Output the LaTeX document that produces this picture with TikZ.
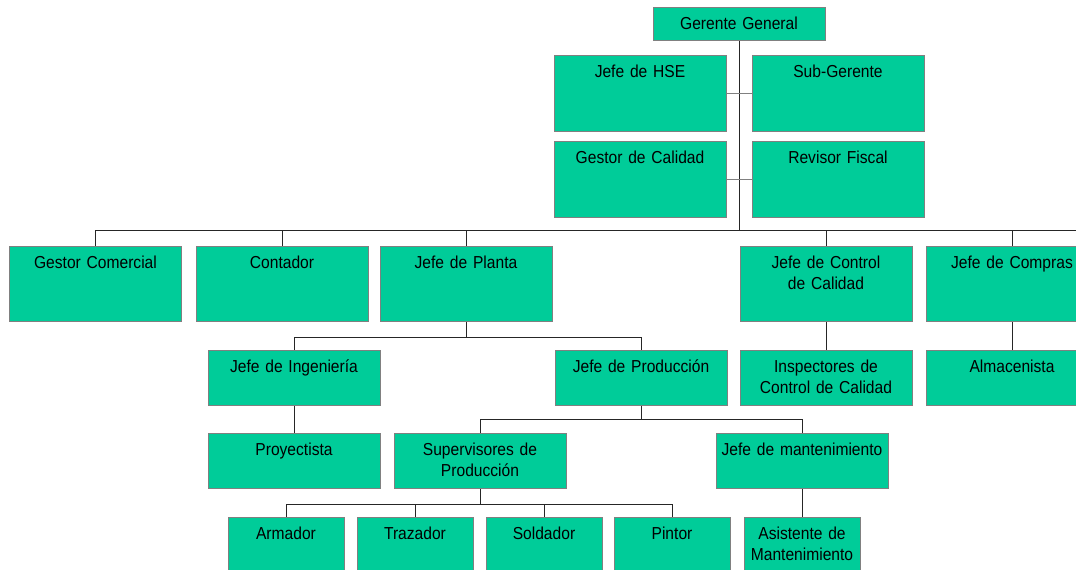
\documentclass[tikz,border=0pt]{standalone}
\usepackage{fontspec}
\setmainfont{Liberation Sans}[FakeStretch=0.9]
\definecolor{boxgreen}{RGB}{0,204,153}
\definecolor{boxline}{RGB}{128,128,128}
\begin{document}
\begin{tikzpicture}[
    x=0.75pt, y=-0.75pt,
    post/.style={rectangle, draw=boxline, line width=0.75pt, fill=boxgreen, anchor=north, text width=129pt, text centered, inner xsep=0pt, inner ysep=7.5pt, text height=9.3pt, font=\fontsize{13pt}{15.5pt}\selectfont},
    small/.style={post, text width=87pt},
    link/.style={draw=black!85, line width=0.75pt},
    side/.style={draw=boxline, line width=0.75pt}
]
\useasboundingbox (0,0) rectangle (1076,569);

% Direction
\node[post, text depth=0.45pt] (gg) at (739,7) {Gerente General};
\node[post, text depth=32.7pt] (hse) at (640,55) {Jefe de HSE};
\node[post, text depth=32.7pt] (sub) at (838,55) {Sub-Gerente};
\node[post, text depth=32.7pt] (gcal) at (640,141) {Gestor de Calidad};
\node[post, text depth=32.7pt] (rev) at (838,141) {Revisor Fiscal};
\coordinate (bus) at (739,230);
\coordinate (busend) at (1076,230);

% Heads of area
\node[post, text depth=31.95pt] (gcom) at (95.5,246) {Gestor Comercial};
\node[post, text depth=31.95pt] (cont) at (282,246) {Contador};
\node[post, text depth=31.95pt] (planta) at (466,246) {Jefe de Planta};
\node[post, text depth=31.95pt] (ccal) at (826,246) {Jefe de Control\\de Calidad};
\node[post, text depth=31.95pt] (compras) at (1012,246) {Jefe de Compras};

% Third level
\node[post, text depth=16.95pt] (ing) at (294,350) {Jefe de Ingenier\'ia};
\node[post, text depth=16.95pt] (prod) at (641,350) {Jefe de Producci\'on};
\node[post, text depth=16.95pt] (insp) at (826,350) {Inspectores de\\Control de Calidad};
\node[post, text depth=16.95pt] (alm) at (1012,350) {Almacenista};

% Fourth level
\node[post, text depth=16.95pt] (proy) at (294,433) {Proyectista};
\node[post, text depth=16.95pt] (sup) at (480,433) {Supervisores de\\Producci\'on};
\node[post, text depth=16.95pt] (mant) at (802,433) {Jefe de mantenimiento};

% Workers (cut by the page edge)
\node[small, text depth=40pt] (armador) at (286,517) {Armador};
\node[small, text depth=40pt] (trazador) at (415,517) {Trazador};
\node[small, text depth=40pt] (soldador) at (544,517) {Soldador};
\node[small, text depth=40pt] (pintor) at (672,517) {Pintor};
\node[small, text depth=40pt] (asist) at (802,517) {Asistente de\\Mantenimiento};

% Connections
\draw[link] (gg.south) -- (bus);
\draw[side] (hse.east) -- (sub.west);
\draw[side] (gcal.east) -- (rev.west);
\draw[link] (gcom.north) |- (busend);
\foreach \n in {cont,planta,ccal,compras}
    \draw[link] (\n.north) -- (\n.north |- bus);

\draw[link] (planta.south) -- ++(0,15) -| (ing.north);
\draw[link] (planta.south) -- ++(0,15) -| (prod.north);
\draw[link] (ing) -- (proy);
\draw[link] (ccal) -- (insp);
\draw[link] (compras) -- (alm);

\draw[link] (prod.south) -- ++(0,13) -| (sup.north);
\draw[link] (prod.south) -- ++(0,13) -| (mant.north);
\foreach \n in {armador,trazador,soldador,pintor}
    \draw[link] (sup.south) -- ++(0,15) -| (\n.north);
\draw[link] (mant) -- (asist);

\end{tikzpicture}
\end{document}
